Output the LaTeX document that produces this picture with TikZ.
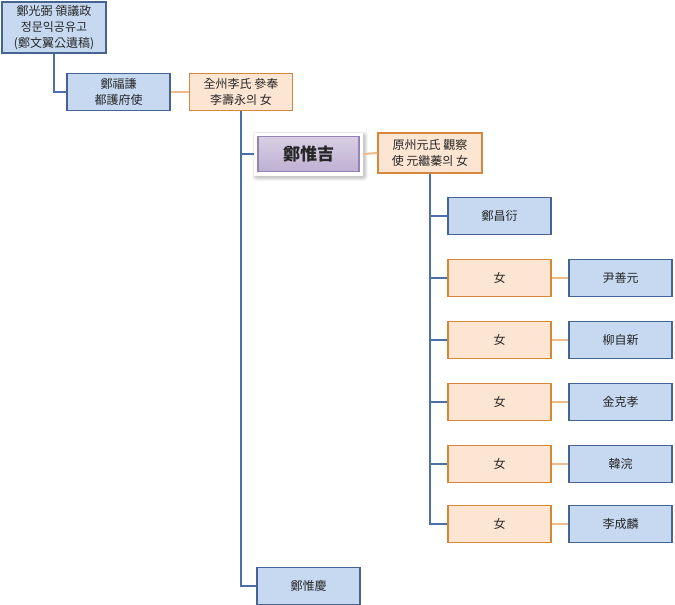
\documentclass[tikz,border=0pt]{standalone}
\usepackage{fontspec}
\setmainfont{Noto Sans CJK KR}
\definecolor{bfill}{RGB}{198,217,241}
\definecolor{bline}{RGB}{70,100,145}
\definecolor{ofill}{RGB}{252,229,210}
\definecolor{oline}{RGB}{214,134,58}
\definecolor{pfill}{RGB}{190,176,210}
\definecolor{pline}{RGB}{150,130,180}
\definecolor{bconn}{RGB}{74,112,165}
\definecolor{oconn}{RGB}{238,186,135}
\tikzset{
  base/.style={rectangle, align=center, inner sep=0pt, line width=1.1pt,
    font=\fontsize{12}{16}\selectfont, text=black!85},
  bbox/.style={base, draw=bline, fill=bfill, minimum width=103, minimum height=37},
  obox/.style={base, draw=oline, fill=ofill, minimum width=103, minimum height=37},
  pbox/.style={base, draw=pline, top color=pfill!60, bottom color=pfill, minimum width=101, minimum height=35,
    font=\fontsize{17}{20}\selectfont\bfseries},
  glow/.style={rectangle, fill=white, minimum width=109, minimum height=43},
  softshadow/.style={rectangle, fill=black, fill opacity=0.06, rounded corners=3pt, inner sep=0pt},
  bl/.style={draw=bconn, line width=2pt},
  ol/.style={draw=oconn, line width=2pt}
}
\begin{document}
\begin{tikzpicture}[x=1pt,y=-1pt]
\useasboundingbox (0,0) rectangle (675,605);
\node[bbox, minimum width=104, minimum height=51] (a) at (54,27.5) {鄭光弼 領議政\\정문익공유고\\(鄭文翼公遺稿)};
\node[bbox] (b) at (118.5,92) {鄭福謙\\都護府使};
\node[obox] (bw) at (241,92) {全州李氏 參奉\\李壽永의 女};
\foreach \s in {1,...,4}
  \node[softshadow, minimum width=107+2*\s, minimum height=41+2*\s] (sh\s) at (310,156) {};
\node[glow] (g) at (308.5,154) {};
\node[pbox] (c) at (308.5,154) {鄭惟吉};
\node[obox, minimum width=104, minimum height=40] (cw) at (430,153) {原州元氏 觀察\\使 元繼蓁의 女};
\node[bbox] (d) at (308.5,586) {鄭惟慶};
\node[bbox] (k1) at (499.5,216) {鄭昌衍};
\node[obox] (k2) at (499.5,278) {女};
\node[obox] (k3) at (499.5,340) {女};
\node[obox] (k4) at (499.5,402) {女};
\node[obox] (k5) at (499.5,464) {女};
\node[obox] (k6) at (499.5,524) {女};
\node[bbox] (s2) at (620.5,278) {尹善元};
\node[bbox] (s3) at (620.5,340) {柳自新};
\node[bbox] (s4) at (620.5,402) {金克孝};
\node[bbox] (s5) at (620.5,464) {韓浣};
\node[bbox] (s6) at (620.5,524) {李成麟};
\draw[bl] (a.south) |- (b.west);
\draw[ol] (b.east) -- (bw.west);
\draw[bl] (bw.south) |- (d.west);
\draw[bl] (bw.south |- c.west) -- (g.west);
\draw[ol] (g.east) -- (cw.west);
\draw[bl] (cw.south) |- (k6.west);
\foreach \k in {k1,k2,k3,k4,k5} \draw[bl] (cw.south |- \k.west) -- (\k.west);
\foreach \i in {2,...,6} \draw[ol] (k\i.east) -- (s\i.west);
\end{tikzpicture}
\end{document}
